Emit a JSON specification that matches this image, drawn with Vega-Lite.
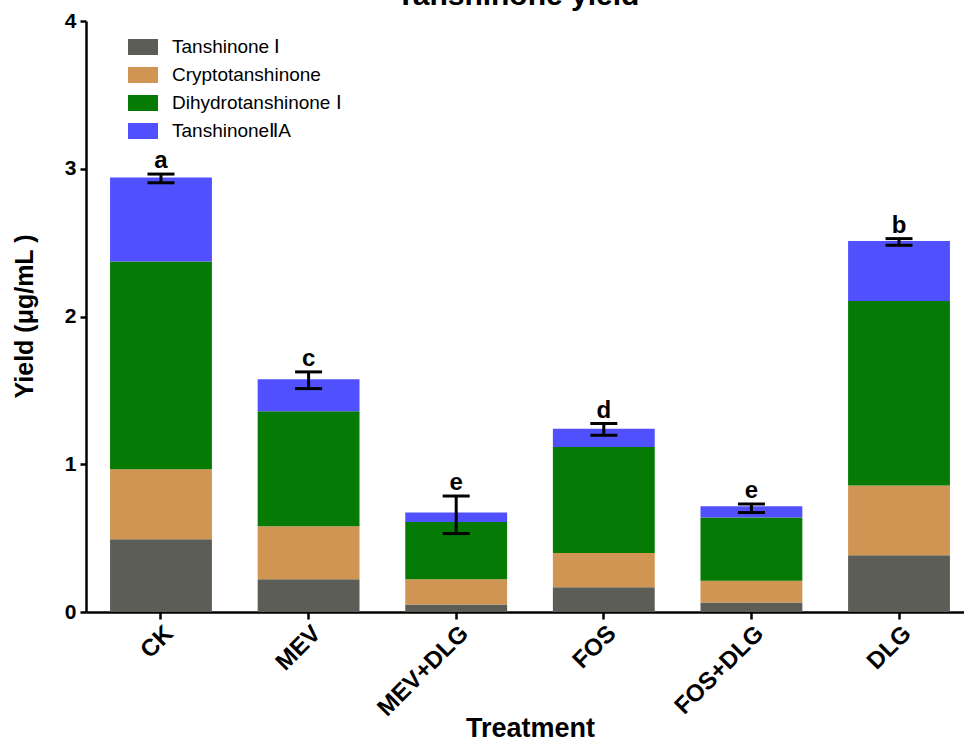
{
  "$schema": "https://vega.github.io/schema/vega-lite/v6.json",
  "autosize": {"type": "none"},
  "padding": {"left": 86, "top": 21, "right": 0, "bottom": 129},
  "width": 878,
  "height": 591,
  "background": "white",
  "title": {
    "text": "Tanshinone yield",
    "font": "Liberation Sans",
    "fontSize": 30,
    "fontWeight": "bold",
    "color": "black",
    "anchor": "middle",
    "frame": "group",
    "baseline": "alphabetic",
    "offset": 0,
    "dy": 25,
    "dx": -7
  },
  "config": {
    "view": {"stroke": null},
    "font": "Liberation Sans"
  },
  "datasets": {
    "stack": [
      {"Treatment": "CK", "Component": "Tanshinone Ⅰ", "Value": 0.492, "Order": 1},
      {"Treatment": "CK", "Component": "Cryptotanshinone", "Value": 0.474, "Order": 2},
      {"Treatment": "CK", "Component": "Dihydrotanshinone Ⅰ", "Value": 1.406, "Order": 3},
      {"Treatment": "CK", "Component": "TanshinoneⅡA", "Value": 0.569, "Order": 4},
      {"Treatment": "MEV", "Component": "Tanshinone Ⅰ", "Value": 0.221, "Order": 1},
      {"Treatment": "MEV", "Component": "Cryptotanshinone", "Value": 0.359, "Order": 2},
      {"Treatment": "MEV", "Component": "Dihydrotanshinone Ⅰ", "Value": 0.779, "Order": 3},
      {"Treatment": "MEV", "Component": "TanshinoneⅡA", "Value": 0.217, "Order": 4},
      {"Treatment": "MEV+DLG", "Component": "Tanshinone Ⅰ", "Value": 0.05, "Order": 1},
      {"Treatment": "MEV+DLG", "Component": "Cryptotanshinone", "Value": 0.171, "Order": 2},
      {"Treatment": "MEV+DLG", "Component": "Dihydrotanshinone Ⅰ", "Value": 0.388, "Order": 3},
      {"Treatment": "MEV+DLG", "Component": "TanshinoneⅡA", "Value": 0.064, "Order": 4},
      {"Treatment": "FOS", "Component": "Tanshinone Ⅰ", "Value": 0.167, "Order": 1},
      {"Treatment": "FOS", "Component": "Cryptotanshinone", "Value": 0.233, "Order": 2},
      {"Treatment": "FOS", "Component": "Dihydrotanshinone Ⅰ", "Value": 0.717, "Order": 3},
      {"Treatment": "FOS", "Component": "TanshinoneⅡA", "Value": 0.124, "Order": 4},
      {"Treatment": "FOS+DLG", "Component": "Tanshinone Ⅰ", "Value": 0.064, "Order": 1},
      {"Treatment": "FOS+DLG", "Component": "Cryptotanshinone", "Value": 0.148, "Order": 2},
      {"Treatment": "FOS+DLG", "Component": "Dihydrotanshinone Ⅰ", "Value": 0.427, "Order": 3},
      {"Treatment": "FOS+DLG", "Component": "TanshinoneⅡA", "Value": 0.076, "Order": 4},
      {"Treatment": "DLG", "Component": "Tanshinone Ⅰ", "Value": 0.384, "Order": 1},
      {"Treatment": "DLG", "Component": "Cryptotanshinone", "Value": 0.473, "Order": 2},
      {"Treatment": "DLG", "Component": "Dihydrotanshinone Ⅰ", "Value": 1.248, "Order": 3},
      {"Treatment": "DLG", "Component": "TanshinoneⅡA", "Value": 0.406, "Order": 4}
    ],
    "errors": [
      {"Treatment": "CK", "Low": 2.905, "High": 2.964, "Letter": "a"},
      {"Treatment": "MEV", "Low": 1.512, "High": 1.625, "Letter": "c"},
      {"Treatment": "MEV+DLG", "Low": 0.531, "High": 0.785, "Letter": "e"},
      {"Treatment": "FOS", "Low": 1.196, "High": 1.275, "Letter": "d"},
      {"Treatment": "FOS+DLG", "Low": 0.673, "High": 0.731, "Letter": "e"},
      {"Treatment": "DLG", "Low": 2.482, "High": 2.527, "Letter": "b"}
    ]
  },
  "encoding": {
    "x": {
      "field": "Treatment",
      "type": "nominal",
      "sort": ["CK", "MEV", "MEV+DLG", "FOS", "FOS+DLG", "DLG"],
      "scale": {"range": [0, 888], "paddingInner": 0.31, "paddingOuter": 0.163},
      "axis": {
        "title": "Treatment",
        "titleFont": "Liberation Sans",
        "titleFontSize": 27,
        "titleFontWeight": "bold",
        "titleColor": "black",
        "titleX": 444,
        "titleY": 116,
        "titleBaseline": "middle",
        "titleAlign": "center",
        "labelAngle": -45,
        "labelAlign": "right",
        "labelBaseline": "top",
        "labelPadding": 2,
        "labelFont": "Liberation Sans",
        "labelFontSize": 24,
        "labelFontWeight": "bold",
        "labelColor": "black",
        "domainColor": "black",
        "domainWidth": 2.5,
        "tickColor": "black",
        "tickWidth": 2.5,
        "tickSize": 7,
        "grid": false
      }
    }
  },
  "layer": [
    {
      "data": {"name": "stack"},
      "mark": {"type": "bar"},
      "encoding": {
        "y": {
          "field": "Value",
          "type": "quantitative",
          "stack": "zero",
          "scale": {"domain": [0, 4], "nice": false},
          "axis": {
            "values": [0, 1, 2, 3, 4],
            "format": "d",
            "title": "Yield (μg/mL )",
            "titleFont": "Liberation Sans",
            "titleFontSize": 25,
            "titleFontWeight": "bold",
            "titleColor": "black",
            "titleX": -62,
            "titleY": 295,
            "titleAngle": -90,
            "titleBaseline": "middle",
            "titleAlign": "center",
            "labelFont": "Liberation Sans",
            "labelFontSize": 21,
            "labelFontWeight": "bold",
            "labelColor": "black",
            "labelPadding": 4,
            "domainColor": "black",
            "domainWidth": 2.5,
            "tickColor": "black",
            "tickWidth": 2.5,
            "tickSize": 6,
            "grid": false
          }
        },
        "color": {
          "field": "Component",
          "type": "nominal",
          "scale": {
            "domain": ["Tanshinone Ⅰ", "Cryptotanshinone", "Dihydrotanshinone Ⅰ", "TanshinoneⅡA"],
            "range": ["#5c5d57", "#d09552", "#057a05", "#5050ff"]
          },
          "legend": {
            "title": null,
            "orient": "none",
            "legendX": 47,
            "legendY": 16,
            "padding": 0,
            "symbolType": "M-1.5,-0.8H1.5V0.8H-1.5Z",
            "symbolSize": 400,
            "symbolStrokeWidth": 0,
            "symbolOpacity": 1,
            "labelFont": "Liberation Sans",
            "labelFontSize": 19,
            "labelColor": "black",
            "labelOffset": 19,
            "labelLimit": 0,
            "rowPadding": 8
          }
        },
        "order": {"field": "Order", "type": "quantitative"}
      }
    },
    {
      "data": {"name": "errors"},
      "mark": {"type": "rule", "color": "black", "strokeWidth": 3},
      "encoding": {
        "y": {"field": "Low", "type": "quantitative"},
        "y2": {"field": "High"}
      }
    },
    {
      "data": {"name": "errors"},
      "mark": {"type": "tick", "color": "black", "thickness": 3, "size": 27, "opacity": 1},
      "encoding": {
        "y": {"field": "Low", "type": "quantitative"}
      }
    },
    {
      "data": {"name": "errors"},
      "mark": {"type": "tick", "color": "black", "thickness": 3, "size": 27, "opacity": 1},
      "encoding": {
        "y": {"field": "High", "type": "quantitative"}
      }
    },
    {
      "data": {"name": "errors"},
      "mark": {"type": "text", "font": "Liberation Sans", "fontSize": 24, "fontWeight": "bold", "color": "black", "baseline": "alphabetic", "dy": -6},
      "encoding": {
        "y": {"field": "High", "type": "quantitative"},
        "text": {"field": "Letter"}
      }
    }
  ]
}
